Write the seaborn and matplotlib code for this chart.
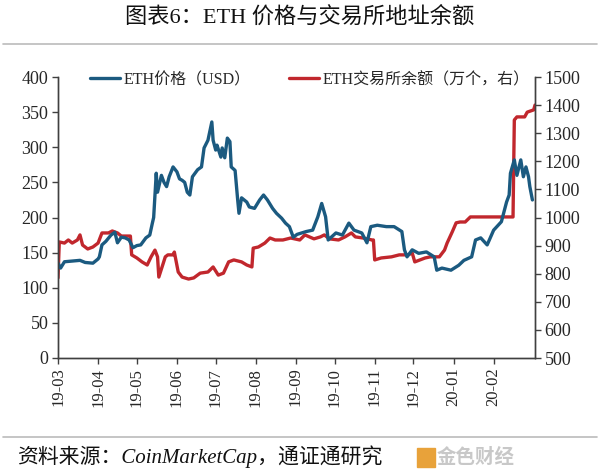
import matplotlib
matplotlib.use("Agg")
import matplotlib.pyplot as plt
import matplotlib.dates as mdates
from matplotlib.lines import Line2D
import seaborn as sns
import pandas as pd

# ---- data ----
price_dates = [
    "2019-03-01", "2019-03-03", "2019-03-06", "2019-03-12", "2019-03-18", "2019-03-22", "2019-03-28",
    "2019-04-01", "2019-04-02", "2019-04-04", "2019-04-07", "2019-04-11", "2019-04-14", "2019-04-16",
    "2019-04-19", "2019-04-22", "2019-04-25", "2019-04-28", "2019-05-01", "2019-05-04", "2019-05-08",
    "2019-05-11", "2019-05-13", "2019-05-14", "2019-05-16", "2019-05-17", "2019-05-20", "2019-05-22",
    "2019-05-24", "2019-05-26", "2019-05-29", "2019-06-01", "2019-06-03", "2019-06-05", "2019-06-07",
    "2019-06-09", "2019-06-11", "2019-06-13", "2019-06-17", "2019-06-20", "2019-06-22", "2019-06-25",
    "2019-06-28", "2019-06-29", "2019-07-01", "2019-07-02", "2019-07-05", "2019-07-06", "2019-07-08",
    "2019-07-10", "2019-07-12", "2019-07-13", "2019-07-16", "2019-07-18", "2019-07-19", "2019-07-21",
    "2019-07-25", "2019-07-27", "2019-07-31", "2019-08-04", "2019-08-07", "2019-08-10", "2019-08-14",
    "2019-08-17", "2019-08-21", "2019-08-24", "2019-08-27", "2019-08-30", "2019-09-02", "2019-09-09",
    "2019-09-14", "2019-09-18", "2019-09-21", "2019-09-24", "2019-09-26", "2019-10-02", "2019-10-07",
    "2019-10-12", "2019-10-16", "2019-10-22", "2019-10-26", "2019-10-29", "2019-11-03", "2019-11-10",
    "2019-11-16", "2019-11-22", "2019-11-24", "2019-11-26", "2019-11-30", "2019-12-05", "2019-12-11",
    "2019-12-17", "2019-12-19", "2019-12-23", "2019-12-30", "2020-01-05", "2020-01-09", "2020-01-15",
    "2020-01-18", "2020-01-22", "2020-01-27", "2020-02-01", "2020-02-07", "2020-02-11", "2020-02-13",
    "2020-02-14", "2020-02-17", "2020-02-19", "2020-02-22", "2020-02-24", "2020-02-26", "2020-02-28",
    "2020-02-29", "2020-03-02",
]
price_usd = [
    135, 128, 137, 138, 139, 136, 135,
    141, 144, 161, 166, 175, 179, 164,
    172, 171, 168, 157, 160, 161, 171,
    175, 192, 200, 263, 236, 260, 250,
    244, 258, 272, 265, 255, 253, 250,
    236, 232, 258, 268, 272, 299, 310,
    336, 310, 296, 303, 286, 299, 285,
    313, 308, 272, 267, 225, 206, 228,
    222, 215, 213, 225, 232, 225, 213,
    206, 199, 192, 187, 172, 176, 180,
    182, 201, 220, 201, 168, 178, 175,
    192, 182, 178, 164, 187, 189, 187,
    187, 180, 154, 144, 154, 149, 151,
    144, 125, 128, 125, 132, 139, 144,
    168, 171, 161, 182, 194, 222, 232,
    263, 282, 260, 282, 258, 272, 258,
    244, 225,
]

balance_dates = [
    "2019-03-01", "2019-03-02", "2019-03-06", "2019-03-09", "2019-03-12", "2019-03-16", "2019-03-18",
    "2019-03-20", "2019-03-24", "2019-03-28", "2019-04-01", "2019-04-04", "2019-04-09", "2019-04-12",
    "2019-04-16", "2019-04-19", "2019-04-26", "2019-04-27", "2019-05-01", "2019-05-05", "2019-05-09",
    "2019-05-12", "2019-05-15", "2019-05-17", "2019-05-18", "2019-05-21", "2019-05-23", "2019-05-25",
    "2019-05-29", "2019-05-30", "2019-06-02", "2019-06-05", "2019-06-10", "2019-06-14", "2019-06-19",
    "2019-06-25", "2019-06-29", "2019-07-03", "2019-07-07", "2019-07-11", "2019-07-15", "2019-07-21",
    "2019-07-25", "2019-07-29", "2019-07-30", "2019-08-03", "2019-08-08", "2019-08-12", "2019-08-16",
    "2019-08-22", "2019-08-28", "2019-09-04", "2019-09-08", "2019-09-15", "2019-09-20", "2019-09-23",
    "2019-09-27", "2019-10-04", "2019-10-09", "2019-10-14", "2019-10-17", "2019-10-23", "2019-10-30",
    "2019-10-31", "2019-11-01", "2019-11-06", "2019-11-14", "2019-11-20", "2019-11-27", "2019-11-30",
    "2019-12-02", "2019-12-06", "2019-12-10", "2019-12-14", "2019-12-21", "2019-12-25", "2019-12-27",
    "2019-12-31", "2020-01-03", "2020-01-06", "2020-01-10", "2020-01-14", "2020-01-18", "2020-02-16",
    "2020-02-17", "2020-02-19", "2020-02-25", "2020-02-27", "2020-03-03", "2020-03-04",
]
balance_wan = [
    785, 913, 909, 920, 909, 920, 938,
    902, 888, 895, 909, 945, 945, 952,
    945, 934, 934, 867, 856, 842, 831,
    860, 884, 860, 788, 831, 860, 867,
    867, 877, 806, 788, 781, 785, 802,
    806, 824, 795, 802, 842, 849, 842,
    831, 824, 891, 895, 909, 927, 920,
    920, 927, 920, 938, 924, 931, 938,
    924, 920, 931, 945, 931, 927, 920,
    920, 849, 856, 860, 867, 867, 874,
    842, 849, 856, 860, 860, 884, 909,
    949, 981, 984, 984, 1002, 1002, 1002,
    1347, 1358, 1358, 1375, 1383, 1400,
]

left_ticks = [0, 50, 100, 150, 200, 250, 300, 350, 400]
right_ticks = [500, 600, 700, 800, 900, 1000, 1100, 1200, 1300, 1400, 1500]
title_text = "图表6：ETH 价格与交易所地址余额"
label_price = "ETH价格（USD）"
label_balance = "ETH交易所余额（万个，右）"
source_text = "资料来源：CoinMarketCap，通证通研究"

df_price = pd.DataFrame({"date": pd.to_datetime(price_dates), "price": price_usd})
df_bal = pd.DataFrame({"date": pd.to_datetime(balance_dates), "balance": balance_wan})

# ---- style ----
sns.set_style("white")
FAM = ["Liberation Serif", "Noto Sans CJK SC", "DejaVu Sans"]
plt.rcParams["font.family"] = FAM

BLUE = "#1b5a80"
RED = "#c1272d"
AXC = "#404040"

fig = plt.figure(figsize=(6.0, 4.76), dpi=100)
ax = fig.add_axes([58 / 600, 1 - 358 / 476, (535 - 58) / 600, (358 - 77) / 476])
ax2 = ax.twinx()

sns.lineplot(data=df_price, x="date", y="price", ax=ax, color=BLUE, lw=2.4, legend=False)
sns.lineplot(data=df_bal, x="date", y="balance", ax=ax2, color=RED, lw=2.4, legend=False)

ax.set_xlim(pd.Timestamp("2019-03-01"), pd.Timestamp("2020-03-04"))
ax.set_ylim(0, 400)
ax2.set_ylim(500, 1500)
ax.set_yticks(left_ticks)
ax2.set_yticks(right_ticks)
ax.set_xlabel("")
ax.set_ylabel("")
ax2.set_ylabel("")

months = pd.date_range("2019-03-01", "2020-02-01", freq="MS")
ax.set_xticks(months)
ax.xaxis.set_major_formatter(mdates.DateFormatter("%y-%m"))

for a in (ax, ax2):
    for s in a.spines.values():
        s.set_color(AXC)
        s.set_linewidth(1.0)
    a.spines["top"].set_visible(False)
    a.grid(False)

ax.spines["right"].set_visible(True)
ax.tick_params(axis="y", which="major", direction="out", length=4, width=1, color=AXC,
               labelsize=13, pad=3, left=True)
ax.tick_params(axis="x", which="major", direction="out", length=4, width=1, color=AXC,
               labelsize=12, pad=3, bottom=True, labelrotation=90)
ax2.tick_params(axis="y", which="major", direction="out", length=4, width=1, color=AXC,
                labelsize=13, pad=3, right=True)
for lab in ax.get_xticklabels():
    lab.set_rotation(90)
    lab.set_fontfamily(FAM)
for lab in ax.get_yticklabels() + ax2.get_yticklabels():
    lab.set_fontfamily(FAM)

ax.set_zorder(ax2.get_zorder() + 1)
ax.patch.set_visible(False)

handles = [Line2D([0], [0], color=BLUE, lw=2.4), Line2D([0], [0], color=RED, lw=2.4)]
fig.legend(handles, [label_price, label_balance], loc="center left",
           bbox_to_anchor=(90 / 600, 1 - 80 / 476), ncol=2, frameon=False,
           handlelength=1.9, handletextpad=0.2, columnspacing=2.4,
           borderpad=0, borderaxespad=0, prop={"family": FAM, "size": 11.5})

# title and separators
fig.text(0.5, 1 - 17 / 476, title_text, ha="center", va="center", fontsize=16, family=FAM, color="#111111")
fig.add_artist(Line2D([3 / 600, 597 / 600], [1 - 44 / 476, 1 - 44 / 476], color="#bbbbbb", lw=1.2))
fig.add_artist(Line2D([3 / 600, 597 / 600], [1 - 437 / 476, 1 - 437 / 476], color="#bbbbbb", lw=1.2))
fig.text(17 / 600, 1 - 457 / 476, source_text, ha="left", va="center", fontsize=15,
         family=FAM, style="italic", color="#111111")
fig.text(515 / 600, 1 - 457 / 476, "金色财经", ha="right", va="center", fontsize=14,
         family=["Noto Sans CJK SC"], color="#c8c8c8", fontweight="bold")
fig.patches.append(plt.Rectangle((417 / 600, 1 - 467 / 476), 18 / 600, 19 / 476,
                                 transform=fig.transFigure, color="#e8a23a", figure=fig))

fig.savefig("out.png", dpi=100)
